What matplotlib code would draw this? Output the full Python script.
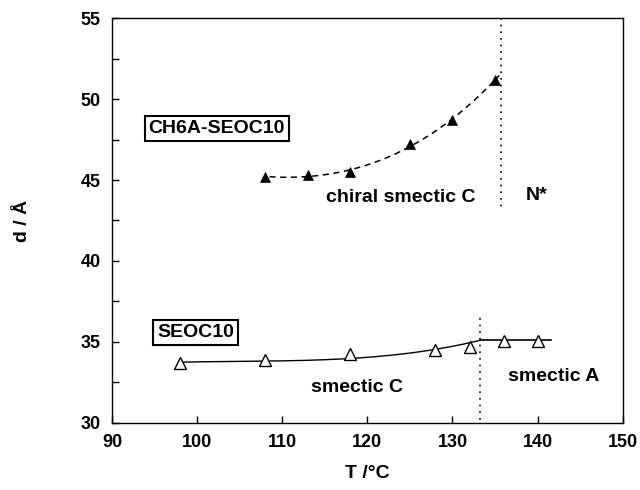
import numpy as np
import matplotlib
matplotlib.use("Agg")
import matplotlib.pyplot as plt
from matplotlib.ticker import MultipleLocator

plt.rcParams['font.family'] = ['Liberation Sans', 'DejaVu Sans']
plt.rcParams['font.weight'] = 'bold'

# CH6A-SEOC10 (chiral smectic C)
T_ch = [108, 113, 118, 125, 130, 135]
d_ch = [45.2, 45.3, 45.5, 47.2, 48.7, 51.2]

# SEOC10 (smectic C and smectic A)
T_se = [98, 108, 118, 128, 132, 136, 140]
d_se = [33.72, 33.9, 34.26, 34.5, 34.7, 35.08, 35.08]

# curve (smectic C fit of SEOC10)
T_fitC = [98, 108, 118, 123, 128, 131, 133.2]
d_fitC = [33.75, 33.8, 34.0, 34.2, 34.5, 34.85, 35.1]
# smectic A line
T_fitA = [133.2, 141.6]
d_fitA = [35.1, 35.1]

T_N = 135.7      # chiral SmC -> N* transition
T_CA = 133.2     # SmC -> SmA transition

fig = plt.figure(figsize=(6.4, 4.9), dpi=100)
ax = fig.add_axes([0.175, 0.137, 0.798, 0.826])

# dashed fit for CH6A-SEOC10
p = np.polyfit(T_ch, d_ch, 3)
tt = np.linspace(108.5, 135.5, 200)
ax.plot(tt, np.polyval(p, tt), ls=(0, (4, 3)), color='black', lw=1.1)
ax.plot(T_ch, d_ch, '^', color='black', ms=7, mew=0.5)

# smectic C / A lines for SEOC10
p2 = np.polyfit(T_fitC, d_fitC, 3)
tt2 = np.linspace(T_fitC[0], T_fitC[-1], 200)
ax.plot(tt2, np.polyval(p2, tt2), color='black', lw=1.0)
ax.plot(T_fitA, d_fitA, color='black', lw=1.2)
ax.plot(T_se, d_se, '^', mfc='white', mec='black', color='black', ms=8, mew=1.0)

# transition lines
ax.plot([T_N, T_N], [55, 43.3], ls=(0, (1, 3)), color='black', lw=1.2)
ax.plot([T_CA, T_CA], [36.5, 30], ls=(0, (1, 3)), color='black', lw=1.2)

# texts
box = dict(boxstyle='square,pad=0.2', fc='white', ec='black', lw=1.5)
ax.text(102.3, 48.2, 'CH6A-SEOC10', fontsize=14, fontweight='bold', ha='center', va='center', bbox=box)
ax.text(99.8, 35.6, 'SEOC10', fontsize=14, fontweight='bold', ha='center', va='center', bbox=box)
ax.text(123.9, 43.95, 'chiral smectic C', fontsize=14, fontweight='bold', ha='center', va='center')
ax.text(139.9, 44.07, 'N*', fontsize=14, fontweight='bold', ha='center', va='center')
ax.text(118.8, 32.16, 'smectic C', fontsize=14, fontweight='bold', ha='center', va='center')
ax.text(141.9, 32.86, 'smectic A', fontsize=14, fontweight='bold', ha='center', va='center')

ax.set_xlim(90, 150)
ax.set_ylim(30, 55)
ax.xaxis.set_major_locator(MultipleLocator(10))
ax.yaxis.set_major_locator(MultipleLocator(5))
ax.yaxis.set_minor_locator(MultipleLocator(2.5))
ax.tick_params(which='both', direction='in', length=5, width=1, labelsize=13, pad=8)
ax.tick_params(axis='y', which='minor', length=5)
for lab in ax.get_xticklabels() + ax.get_yticklabels():
    lab.set_fontweight('bold')
for s in ax.spines.values():
    s.set_linewidth(1.0)

ax.set_xlabel('T /°C', fontsize=14, fontweight='bold', labelpad=10)
ax.set_ylabel('d / Å', fontsize=14, fontweight='bold', labelpad=36)

fig.savefig('out.png', dpi=100)
